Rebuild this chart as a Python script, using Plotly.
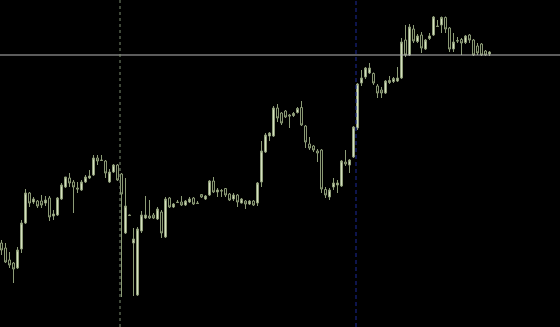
import plotly.graph_objects as go

opens = [87,82,70,67,62,81,107,137,128,129,129,127,132,114,115,131,143,152,148,142,
         140,148,152,155,172,170,169,148,158,165,156,97,115,87,35,99,112,114,115,111,
         118,93,132,123,128,128,125,128,132,127,135.5,131,135,149,138,139.5,141.5,136,131,135,
         127,129,126,129,127,148,178,194,194,222,217,219,215,214.5,217.5,222.5,204,186,184,179,
         180,140.5,133,143,145,144,168,165,173,202,247,253,257,256.5,244,240,237,247.5,248.5,249,
         252,290,275,301,288.5,295,281,291.5,295,304,305,312.5,302,281,289.5,290.5,287.5,295,290,284,
         286,279,276]
highs = [90,87,78,68,83,110,141,138,133,130,135,134,134,120,133,147,153,157,150,148,
         150,155,160,175,175,175,170,161,166,166,157,152,115.5,102,103,119,134,130,117,123,
         120,133,133,127,130,134,130,133,133,129,136,135,150,153,142,141,142,137,137,136,
         132,130,130,130,148,189,197,198,224,226,218,220,216,218,223,229,205,193,185,181,
         181,143,142,152,150,170,180,171,204,247,260,263,267,257.5,246,243,250,254,253,263,
         292,305,306,305,296,298,291,297,314,310,313.5,313.5,303,297,293,292,295,296,291,287,
         287,280,279]
lows = [75,67,62,47,61,77,106,123,126,122,122,124,109,110,114,130,142,143,117,137,
        139,147,151,154,165,169,152,147,157,149,33,96,114,34,34,97,111,111,111,110,
        92,92,122,122,127,124,124,127,125,126,132,130,134,137,133,133,133,129,129,123,
        126.5,121,125,124,124,143,177,189,193,208,205,212,202,213,216.5,204,182,180,178,168,
        137,132,130,140,137,143,164,157,172,200,244,251,256,245,232,232,236,246,247,248,
        251,273,274,287,287,277,280,290,294,303,297,297,278,278,287,275,286,287,274,275,
        274,274,274]
closes = [80,68,65,61,80,107,137,127,131,124,125,130,113,116,132,145,153,147,143,141,
          148,153,154,172,169,169.5,157,158,165,150,136,124,114.5,91,101,115,115,112,112,121,
          97,131,123,126,127.5,125,129,131,126,126.5,133,134,149,138,140,139,135,130,135,128,
          131,126,129,125,147,179,195,197,222,212,207,213,214,216.5,221.5,205,188,182,180,177,
          141,135,140,147,147,169,166,170,203,246,252,262,262,247,237,237,249,249.5,251.5,252,
          288,275,303,289,294,282,290,294,313,303.5,312.5,301,281,288,289,287,294,290,275,277,
          275,275,278]

bid_level = 275
separators = [29.625, 88.625]

x = list(range(len(opens)))

fig = go.Figure()
fig.add_trace(go.Candlestick(
    x=x, open=opens, high=highs, low=lows, close=closes,
    increasing=dict(line=dict(color="#8d9c77", width=1), fillcolor="#d9e3c6"),
    decreasing=dict(line=dict(color="#8d9c77", width=1), fillcolor="#000000"),
    whiskerwidth=0, showlegend=False, hoverinfo="skip",
))

fig.add_shape(type="line", xref="paper", x0=0, x1=1, yref="y", y0=bid_level, y1=bid_level,
              line=dict(color="#b8b8b8", width=1))
fig.add_shape(type="line", xref="x", x0=separators[0], x1=separators[0], yref="paper", y0=0, y1=1,
              line=dict(color="#7f8f72", width=1, dash="3px,3px"))
fig.add_shape(type="line", xref="x", x0=separators[1], x1=separators[1], yref="paper", y0=0, y1=1,
              line=dict(color="#1c2a9a", width=1, dash="4px,3px"))

fig.update_layout(
    width=560, height=327,
    margin=dict(l=0, r=0, t=0, b=0),
    paper_bgcolor="#000000", plot_bgcolor="#000000",
    showlegend=False,
    xaxis=dict(range=[-0.375, 139.625], visible=False, rangeslider=dict(visible=False), fixedrange=True),
    yaxis=dict(range=[3, 330], visible=False, fixedrange=True),
)

fig.write_html("out.html", config={"displayModeBar": False})
